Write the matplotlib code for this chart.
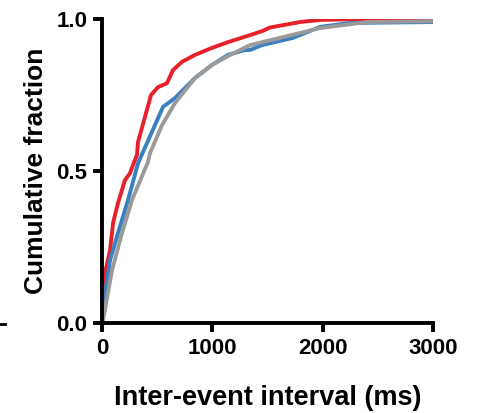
import matplotlib.pyplot as plt
from matplotlib.lines import Line2D

plt.rcParams['font.family'] = ['Liberation Sans', 'DejaVu Sans']
plt.rcParams['font.weight'] = 'bold'

# cumulative distributions (interval in ms, fraction)
red_x = [0, 0, 27, 73, 100, 145, 208, 254, 281, 317, 326, 444, 508, 589, 643, 725,
         843, 997, 1142, 1341, 1450, 1523, 1795, 1976, 2402, 3000]
red_y = [0, 0.02, 0.164, 0.240, 0.329, 0.395, 0.470, 0.493, 0.520, 0.553, 0.595, 0.750,
         0.776, 0.789, 0.832, 0.859, 0.882, 0.905, 0.924, 0.947, 0.960, 0.972, 0.990,
         0.997, 1.0, 1.0]

blue_x = [0, 5, 73, 145, 236, 326, 480, 553, 662, 843, 997, 1142, 1296, 1341, 1450,
          1731, 1976, 2248, 3000]
blue_y = [0, 0.043, 0.207, 0.296, 0.405, 0.525, 0.651, 0.711, 0.740, 0.806, 0.849,
          0.882, 0.898, 0.898, 0.914, 0.938, 0.974, 0.987, 0.99]

gray_x = [0, 10, 91, 181, 272, 417, 435, 544, 662, 843, 997, 1142, 1341, 1795, 1976,
          2402, 3000]
gray_y = [0, 0.01, 0.174, 0.296, 0.405, 0.530, 0.559, 0.651, 0.724, 0.806, 0.849,
          0.878, 0.914, 0.954, 0.970, 0.990, 0.993]

x_ticks = [0, 1000, 2000, 3000]
y_ticks = [0.0, 0.5, 1.0]

fig = plt.figure(figsize=(4.79, 4.13), dpi=100)
ax = fig.add_axes([0.213, 0.218, 0.691, 0.736])

ax.plot(red_x, red_y, color='#e8202a', lw=2.8, solid_joinstyle='round')
ax.plot(blue_x, blue_y, color='#3a7fc0', lw=2.8, solid_joinstyle='round')
ax.plot(gray_x, gray_y, color='#9a9a9a', lw=2.8, solid_joinstyle='round')

ax.set_xlim(0, 3000)
ax.set_ylim(0, 1.0)
ax.set_xticks(x_ticks)
ax.set_yticks(y_ticks)
ax.set_yticklabels(['%.1f' % v for v in y_ticks])

for s in ['top', 'right']:
    ax.spines[s].set_visible(False)
for s in ['left', 'bottom']:
    ax.spines[s].set_linewidth(2.8)
ax.tick_params(width=2.8, length=6.5, labelsize=16, pad=4)

ax.set_xlabel('Inter-event interval (ms)', fontsize=19.5, fontweight='bold', labelpad=19)
ax.set_ylabel('Cumulative fraction', fontsize=19, fontweight='bold', labelpad=6)

# small dash at the left edge
fig.add_artist(Line2D([0, 5 / 479], [1 - 324 / 413, 1 - 324 / 413], color='black', lw=2))

fig.savefig('out.png', dpi=100)
